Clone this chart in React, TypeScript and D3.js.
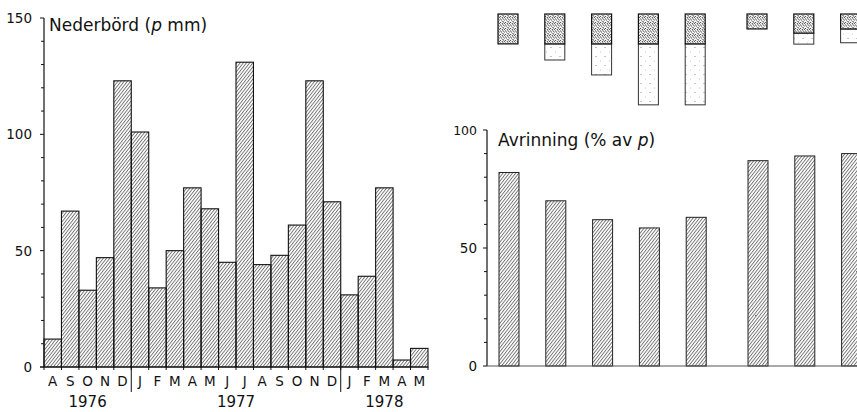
import * as d3 from 'd3';

// Nederbörd per månad, aug 1976 – maj 1978 (mm)
const months = ['A', 'S', 'O', 'N', 'D', 'J', 'F', 'M', 'A', 'M', 'J', 'J', 'A', 'S', 'O', 'N', 'D', 'J', 'F', 'M', 'A', 'M'];
const precip = [12, 67, 33, 47, 123, 101, 34, 50, 77, 68, 45, 131, 44, 48, 61, 123, 71, 31, 39, 77, 3, 8];
const years = [
  { label: '1976', from: 0, to: 5 },
  { label: '1977', from: 5, to: 17 },
  { label: '1978', from: 17, to: 22 },
];

// Avrinning i % av nederbörden, per period
const periods = ['1', '2', '3', '4', '5', '6', '7', '8'];
const periodGroup = [0, 0, 0, 0, 0, 1, 1, 1];
const runoff = [82, 70, 62, 58.5, 63, 87, 89, 90];
// hängande staplar överst: mörk och ljus del
const upperDark = [13, 13, 13, 13, 13, 6.5, 8.3, 6.5];
const upperLight = [0, 7, 13.5, 26.5, 26.5, 0, 4.8, 6];

const leftTicks = [0, 50, 100, 150];
const rightTicks = [0, 50, 100];

const W = 857;
const H = 412;
const font = '"DejaVu Sans", sans-serif';

export default function App() {
  // vänster diagram
  const x = d3.scaleBand<number>().domain(d3.range(months.length)).range([44, 428]).padding(0);
  const y = d3.scaleLinear().domain([0, 150]).range([367, 18]);
  const x0 = x.range()[0];
  const x1 = x.range()[1];

  // höger diagram
  const step = 46.8;
  const groupGap = 15;
  const xr = (i: number) => 499 + step * i + periodGroup[i] * groupGap;
  const barW = 20;
  const yr = d3.scaleLinear().domain([0, 100]).range([366, 130]);
  const yBox = d3.scaleLinear().domain([0, 50]).range([0, 115]);
  const boxTop = 14;
  const axR = 487;

  return (
    <svg
      width={W}
      height={H}
      style={{ position: 'absolute', left: 0, top: 0, background: '#fff' }}
      fontFamily={font}
    >
      <defs>
        <pattern id="hatch" width="2.5" height="10" patternUnits="userSpaceOnUse" patternTransform="rotate(38)">
          <line x1="0.5" y1="0" x2="0.5" y2="10" stroke="#333" strokeWidth="0.7" />
        </pattern>
        <pattern id="stipDark" width="5" height="6" patternUnits="userSpaceOnUse">
          <rect width="5" height="6" fill="#f4f4f4" />
          <path d="M0.4 0.5l0.8 1.3M2.8 0.3l0.6 1.2M4.2 1.6l0.7 1M1.5 2.6l1 0.8M3.3 3.4l0.5 1.2M0.2 4.2l1 1M4 5l0.8 0.8M2.2 4.9l0.6 0.9"
            stroke="#222" strokeWidth="0.9" fill="none" />
        </pattern>
        <pattern id="stipLight" width="9" height="9" patternUnits="userSpaceOnUse">
          <rect width="9" height="9" fill="#fff" />
          <circle cx="2" cy="2.5" r="0.5" fill="#666" />
          <circle cx="6.5" cy="7" r="0.45" fill="#888" />
        </pattern>
      </defs>

      {/* ---------- Nederbörd ---------- */}
      {precip.map((v, i) => (
        <rect
          key={'p' + i}
          x={x(i)}
          y={y(v)}
          width={x.bandwidth()}
          height={y(0) - y(v)}
          fill="url(#hatch)"
          stroke="#111"
          strokeWidth={1.1}
        />
      ))}
      <line x1={x0} x2={x0} y1={y(150)} y2={y(0)} stroke="#111" strokeWidth={1.2} />
      {y.ticks(15).map((t) => (
        <line key={'lt' + t} x1={x0 - (t % 50 === 0 ? 4 : 3)} x2={x0} y1={y(t)} y2={y(t)} stroke="#111" strokeWidth={1} />
      ))}
      {leftTicks.map((t) => (
        <text key={'ll' + t} x={x0 - 12} y={y(t)} dy="0.36em" textAnchor="end" fontSize={13.5} fill="#111">
          {t}
        </text>
      ))}
      <line x1={x0 - 4} x2={x1} y1={y(0)} y2={y(0)} stroke="#111" strokeWidth={1.2} />
      {d3.range(months.length + 1).map((i) => (
        <line key={'xt' + i} x1={x0 + i * x.step()} x2={x0 + i * x.step()} y1={y(0)} y2={y(0) + 3} stroke="#111" strokeWidth={1} />
      ))}
      {years.slice(1).map((yy) => (
        <line key={'ys' + yy.label} x1={x0 + yy.from * x.step()} x2={x0 + yy.from * x.step()} y1={y(0)} y2={y(0) + 25} stroke="#111" strokeWidth={1} />
      ))}
      {months.map((m, i) => (
        <text key={'m' + i} x={(x(i) ?? 0) + x.bandwidth() / 2} y={386} textAnchor="middle" fontSize={13.5} fill="#111">
          {m}
        </text>
      ))}
      {years.map((yy) => (
        <text key={'y' + yy.label} x={x0 + ((yy.from + yy.to) / 2) * x.step()} y={407} textAnchor="middle" fontSize={15} fill="#111">
          {yy.label}
        </text>
      ))}
      <text x={49} y={31} fontSize={17} fill="#111">
        Nederbörd (<tspan fontStyle="italic">p</tspan> mm)
      </text>

      {/* ---------- hängande staplar ---------- */}
      {periods.map((p, i) => (
        <g key={'b' + p}>
          {upperLight[i] > 0 && (
            <rect
              x={xr(i) - 1}
              y={boxTop + yBox(upperDark[i])}
              width={barW}
              height={yBox(upperLight[i])}
              fill="url(#stipLight)"
              stroke="#333"
              strokeWidth={1}
            />
          )}
          <rect
            x={xr(i) - 1}
            y={boxTop}
            width={barW}
            height={yBox(upperDark[i])}
            fill="url(#stipDark)"
            stroke="#111"
            strokeWidth={1.2}
          />
        </g>
      ))}

      {/* ---------- Avrinning ---------- */}
      {runoff.map((v, i) => (
        <rect
          key={'r' + i}
          x={xr(i)}
          y={yr(v)}
          width={barW}
          height={yr(0) - yr(v)}
          fill="url(#hatch)"
          stroke="#222"
          strokeWidth={1}
        />
      ))}
      <line x1={axR} x2={axR} y1={yr(100)} y2={yr(0)} stroke="#111" strokeWidth={1.2} />
      {yr.ticks(10).map((t) => (
        <line key={'rt' + t} x1={axR - (t % 50 === 0 ? 4 : 3)} x2={axR} y1={yr(t)} y2={yr(t)} stroke="#111" strokeWidth={1} />
      ))}
      {rightTicks.map((t) => (
        <text key={'rl' + t} x={axR - 10} y={yr(t)} dy="0.36em" textAnchor="end" fontSize={t === 100 ? 12.5 : 13.5} fill="#111">
          {t}
        </text>
      ))}
      <line x1={axR} x2={W} y1={yr(0)} y2={yr(0)} stroke="#555" strokeWidth={1.2} />
      <text x={498} y={146} fontSize={17} fill="#111">
        Avrinning (% av <tspan fontStyle="italic">p</tspan>)
      </text>
    </svg>
  );
}
